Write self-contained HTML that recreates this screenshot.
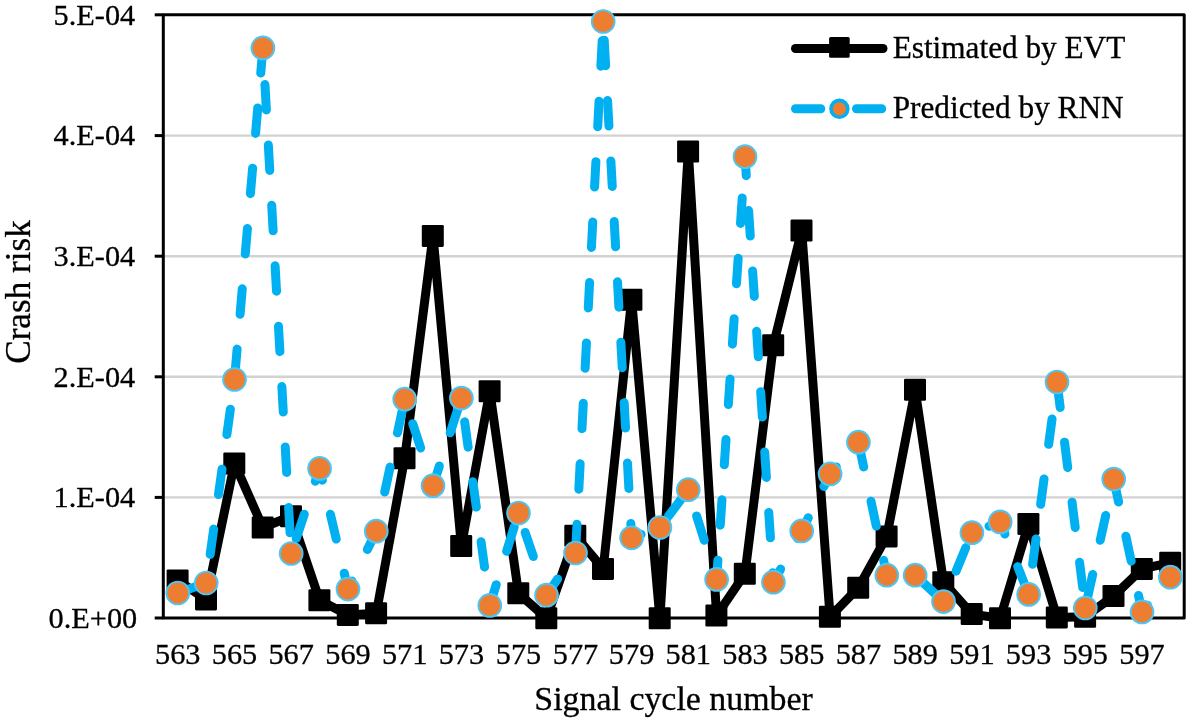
<!DOCTYPE html>
<html><head><meta charset="utf-8"><title>Crash risk chart</title>
<style>
html,body{margin:0;padding:0;background:#fff;}
body{width:1190px;height:721px;overflow:hidden;}
svg{display:block;}
text{font-family:"Liberation Serif","Times New Roman",serif;fill:#000;stroke:#000;stroke-width:0.3px;}
.tk{font-size:30.3px;}
.ti{font-size:33.9px;}
.tc{font-size:35.2px;}
.lg{font-size:31.25px;}
</style></head><body>
<svg width="1190" height="721" viewBox="0 0 1190 721">
<rect width="1190" height="721" fill="#fff"/>

<line x1="163" y1="135.6" x2="1184" y2="135.6" stroke="#d3d1d1" stroke-width="2.4"/>
<line x1="163" y1="256.2" x2="1184" y2="256.2" stroke="#d3d1d1" stroke-width="2.4"/>
<line x1="163" y1="376.8" x2="1184" y2="376.8" stroke="#d3d1d1" stroke-width="2.4"/>
<line x1="163" y1="497.4" x2="1184" y2="497.4" stroke="#d3d1d1" stroke-width="2.4"/>
<rect x="163.3" y="14.8" width="1020.9" height="603.2" fill="none" stroke="#000" stroke-width="3" stroke-linejoin="round"/>
<line x1="154.7" y1="14.8" x2="163.3" y2="14.8" stroke="#000" stroke-width="3"/>
<line x1="154.7" y1="135.6" x2="163.3" y2="135.6" stroke="#000" stroke-width="3"/>
<line x1="154.7" y1="256.2" x2="163.3" y2="256.2" stroke="#000" stroke-width="3"/>
<line x1="154.7" y1="376.8" x2="163.3" y2="376.8" stroke="#000" stroke-width="3"/>
<line x1="154.7" y1="497.4" x2="163.3" y2="497.4" stroke="#000" stroke-width="3"/>
<line x1="154.7" y1="618" x2="163.3" y2="618" stroke="#000" stroke-width="3"/>
<text class="tk" x="135.2" y="24.6" text-anchor="end">5.E-04</text>
<text class="tk" x="135.2" y="145.4" text-anchor="end">4.E-04</text>
<text class="tk" x="135.2" y="266.0" text-anchor="end">3.E-04</text>
<text class="tk" x="135.2" y="386.6" text-anchor="end">2.E-04</text>
<text class="tk" x="135.2" y="507.2" text-anchor="end">1.E-04</text>
<text class="tk" x="137.2" y="627.8" text-anchor="end">0.E+00</text>
<text class="tk" x="177.8" y="663.8" text-anchor="middle">563</text>
<text class="tk" x="234.5" y="663.8" text-anchor="middle">565</text>
<text class="tk" x="291.2" y="663.8" text-anchor="middle">567</text>
<text class="tk" x="348.0" y="663.8" text-anchor="middle">569</text>
<text class="tk" x="404.7" y="663.8" text-anchor="middle">571</text>
<text class="tk" x="461.4" y="663.8" text-anchor="middle">573</text>
<text class="tk" x="518.5" y="663.8" text-anchor="middle">575</text>
<text class="tk" x="575.5" y="663.8" text-anchor="middle">577</text>
<text class="tk" x="631.6" y="663.8" text-anchor="middle">579</text>
<text class="tk" x="688.3" y="663.8" text-anchor="middle">581</text>
<text class="tk" x="745.0" y="663.8" text-anchor="middle">583</text>
<text class="tk" x="801.7" y="663.8" text-anchor="middle">585</text>
<text class="tk" x="858.4" y="663.8" text-anchor="middle">587</text>
<text class="tk" x="915.2" y="663.8" text-anchor="middle">589</text>
<text class="tk" x="971.9" y="663.8" text-anchor="middle">591</text>
<text class="tk" x="1028.6" y="663.8" text-anchor="middle">593</text>
<text class="tk" x="1085.3" y="663.8" text-anchor="middle">595</text>
<text class="tk" x="1142.0" y="663.8" text-anchor="middle">597</text>
<text class="ti" x="673.6" y="709.8" text-anchor="middle">Signal cycle number</text>
<text class="tc" transform="translate(30.4,292) rotate(-90)" text-anchor="middle">Crash risk</text>
<polyline points="177.8,580.5 206.2,599.4 234.5,463.4 262.9,527.5 291.2,516.2 319.6,600.2 348.0,614.9 376.3,613.2 404.7,458.2 433.0,235.9 461.4,546.1 489.8,391.3 518.5,593.3 546.5,618.2 575.5,535.8 603.2,568.9 631.6,299.7 659.9,618.2 688.3,151.5 716.6,615.5 745.0,573.8 773.4,345.2 801.7,230.6 830.1,616.8 858.4,587.7 886.8,536.4 915.2,389.8 943.5,582.2 971.9,614.1 1000.2,618.2 1028.6,523.9 1057.0,617.4 1085.3,616.7 1113.7,596.0 1142.0,568.9 1170.4,562.7" fill="none" stroke="#000" stroke-width="9" stroke-linejoin="round" stroke-linecap="round"/>
<rect x="166.6" y="569.5" width="22" height="22" rx="1.3" fill="#000"/>
<rect x="195.0" y="588.4" width="22" height="22" rx="1.3" fill="#000"/>
<rect x="223.3" y="452.4" width="22" height="22" rx="1.3" fill="#000"/>
<rect x="251.7" y="516.5" width="22" height="22" rx="1.3" fill="#000"/>
<rect x="280.0" y="505.2" width="22" height="22" rx="1.3" fill="#000"/>
<rect x="308.4" y="589.2" width="22" height="22" rx="1.3" fill="#000"/>
<rect x="336.8" y="603.9" width="22" height="22" rx="1.3" fill="#000"/>
<rect x="365.1" y="602.2" width="22" height="22" rx="1.3" fill="#000"/>
<rect x="393.5" y="447.2" width="22" height="22" rx="1.3" fill="#000"/>
<rect x="421.8" y="224.9" width="22" height="22" rx="1.3" fill="#000"/>
<rect x="450.2" y="535.1" width="22" height="22" rx="1.3" fill="#000"/>
<rect x="478.6" y="380.3" width="22" height="22" rx="1.3" fill="#000"/>
<rect x="507.3" y="582.3" width="22" height="22" rx="1.3" fill="#000"/>
<rect x="535.3" y="607.2" width="22" height="22" rx="1.3" fill="#000"/>
<rect x="564.3" y="524.8" width="22" height="22" rx="1.3" fill="#000"/>
<rect x="592.0" y="557.9" width="22" height="22" rx="1.3" fill="#000"/>
<rect x="620.4" y="288.7" width="22" height="22" rx="1.3" fill="#000"/>
<rect x="648.7" y="607.2" width="22" height="22" rx="1.3" fill="#000"/>
<rect x="677.1" y="140.5" width="22" height="22" rx="1.3" fill="#000"/>
<rect x="705.4" y="604.5" width="22" height="22" rx="1.3" fill="#000"/>
<rect x="733.8" y="562.8" width="22" height="22" rx="1.3" fill="#000"/>
<rect x="762.2" y="334.2" width="22" height="22" rx="1.3" fill="#000"/>
<rect x="790.5" y="219.6" width="22" height="22" rx="1.3" fill="#000"/>
<rect x="818.9" y="605.8" width="22" height="22" rx="1.3" fill="#000"/>
<rect x="847.2" y="576.7" width="22" height="22" rx="1.3" fill="#000"/>
<rect x="875.6" y="525.4" width="22" height="22" rx="1.3" fill="#000"/>
<rect x="904.0" y="378.8" width="22" height="22" rx="1.3" fill="#000"/>
<rect x="932.3" y="571.2" width="22" height="22" rx="1.3" fill="#000"/>
<rect x="960.7" y="603.1" width="22" height="22" rx="1.3" fill="#000"/>
<rect x="989.0" y="607.2" width="22" height="22" rx="1.3" fill="#000"/>
<rect x="1017.4" y="512.9" width="22" height="22" rx="1.3" fill="#000"/>
<rect x="1045.8" y="606.4" width="22" height="22" rx="1.3" fill="#000"/>
<rect x="1074.1" y="605.7" width="22" height="22" rx="1.3" fill="#000"/>
<rect x="1102.5" y="585.0" width="22" height="22" rx="1.3" fill="#000"/>
<rect x="1130.8" y="557.9" width="22" height="22" rx="1.3" fill="#000"/>
<rect x="1159.2" y="551.7" width="22" height="22" rx="1.3" fill="#000"/>
<g fill="none" stroke="#00b0f0" stroke-width="9" stroke-linecap="round" stroke-dasharray="25.5 35">
<line x1="177.8" y1="593.0" x2="206.2" y2="583.0" stroke-dashoffset="1.5"/>
<line x1="206.2" y1="583.0" x2="234.5" y2="379.5" stroke-dashoffset="31.6"/>
<line x1="234.5" y1="379.5" x2="262.9" y2="47.9" stroke-dashoffset="55.5"/>
<line x1="262.9" y1="47.9" x2="291.2" y2="553.5" stroke-dashoffset="23.8"/>
<line x1="291.2" y1="553.5" x2="319.6" y2="468.4" stroke-dashoffset="44.7"/>
<line x1="319.6" y1="468.4" x2="348.0" y2="589.1" stroke-dashoffset="13.4"/>
<line x1="348.0" y1="589.1" x2="376.3" y2="531.2" stroke-dashoffset="16.4"/>
<line x1="376.3" y1="531.2" x2="404.7" y2="399.2" stroke-dashoffset="20.4"/>
<line x1="404.7" y1="399.2" x2="433.0" y2="485.7" stroke-dashoffset="34.7"/>
<line x1="433.0" y1="485.7" x2="461.4" y2="398.1" stroke-dashoffset="4.9"/>
<line x1="461.4" y1="398.1" x2="489.8" y2="605.4" stroke-dashoffset="36.5"/>
<line x1="489.8" y1="605.4" x2="518.5" y2="513.0" stroke-dashoffset="3.8"/>
<line x1="518.5" y1="513.0" x2="546.5" y2="595.2" stroke-dashoffset="40.0"/>
<line x1="546.5" y1="595.2" x2="575.5" y2="553.0" stroke-dashoffset="5.9"/>
<line x1="575.5" y1="553.0" x2="603.2" y2="21.5" stroke-dashoffset="57.1"/>
<line x1="603.2" y1="21.5" x2="631.6" y2="537.8" stroke-dashoffset="41.8"/>
<line x1="631.6" y1="537.8" x2="659.9" y2="527.5" stroke-dashoffset="15.4"/>
<line x1="659.9" y1="527.5" x2="688.3" y2="489.7" stroke-dashoffset="46.1"/>
<line x1="688.3" y1="489.7" x2="716.6" y2="579.4" stroke-dashoffset="33.0"/>
<line x1="716.6" y1="579.4" x2="745.0" y2="156.7" stroke-dashoffset="6.2"/>
<line x1="745.0" y1="156.7" x2="773.4" y2="582.2" stroke-dashoffset="6.5"/>
<line x1="773.4" y1="582.2" x2="801.7" y2="530.9" stroke-dashoffset="10.5"/>
<line x1="801.7" y1="530.9" x2="830.1" y2="473.9" stroke-dashoffset="10.8"/>
<line x1="830.1" y1="473.9" x2="858.4" y2="442.2" stroke-dashoffset="16.1"/>
<line x1="858.4" y1="442.2" x2="886.8" y2="575.2" stroke-dashoffset="0.2"/>
<line x1="886.8" y1="575.2" x2="915.2" y2="575.2" stroke-dashoffset="18.3"/>
<line x1="915.2" y1="575.2" x2="943.5" y2="601.6" stroke-dashoffset="48.9"/>
<line x1="943.5" y1="601.6" x2="971.9" y2="532.7" stroke-dashoffset="27.6"/>
<line x1="971.9" y1="532.7" x2="1000.2" y2="521.9" stroke-dashoffset="42.2"/>
<line x1="1000.2" y1="521.9" x2="1028.6" y2="594.4" stroke-dashoffset="12.5"/>
<line x1="1028.6" y1="594.4" x2="1057.0" y2="382.0" stroke-dashoffset="30.1"/>
<line x1="1057.0" y1="382.0" x2="1085.3" y2="608.0" stroke-dashoffset="60.4"/>
<line x1="1085.3" y1="608.0" x2="1113.7" y2="479.1" stroke-dashoffset="51.7"/>
<line x1="1113.7" y1="479.1" x2="1142.0" y2="611.9" stroke-dashoffset="2.1"/>
<line x1="1142.0" y1="611.9" x2="1170.4" y2="577.2" stroke-dashoffset="16.9"/>
</g>
<circle cx="177.8" cy="593.0" r="11.4" fill="#ed7d31" stroke="#4fc5f2" stroke-width="1.9"/>
<circle cx="206.2" cy="583.0" r="11.4" fill="#ed7d31" stroke="#4fc5f2" stroke-width="1.9"/>
<circle cx="234.5" cy="379.5" r="11.4" fill="#ed7d31" stroke="#4fc5f2" stroke-width="1.9"/>
<circle cx="262.9" cy="47.9" r="11.4" fill="#ed7d31" stroke="#4fc5f2" stroke-width="1.9"/>
<circle cx="291.2" cy="553.5" r="11.4" fill="#ed7d31" stroke="#4fc5f2" stroke-width="1.9"/>
<circle cx="319.6" cy="468.4" r="11.4" fill="#ed7d31" stroke="#4fc5f2" stroke-width="1.9"/>
<circle cx="348.0" cy="589.1" r="11.4" fill="#ed7d31" stroke="#4fc5f2" stroke-width="1.9"/>
<circle cx="376.3" cy="531.2" r="11.4" fill="#ed7d31" stroke="#4fc5f2" stroke-width="1.9"/>
<circle cx="404.7" cy="399.2" r="11.4" fill="#ed7d31" stroke="#4fc5f2" stroke-width="1.9"/>
<circle cx="433.0" cy="485.7" r="11.4" fill="#ed7d31" stroke="#4fc5f2" stroke-width="1.9"/>
<circle cx="461.4" cy="398.1" r="11.4" fill="#ed7d31" stroke="#4fc5f2" stroke-width="1.9"/>
<circle cx="489.8" cy="605.4" r="11.4" fill="#ed7d31" stroke="#4fc5f2" stroke-width="1.9"/>
<circle cx="518.5" cy="513.0" r="11.4" fill="#ed7d31" stroke="#4fc5f2" stroke-width="1.9"/>
<circle cx="546.5" cy="595.2" r="11.4" fill="#ed7d31" stroke="#4fc5f2" stroke-width="1.9"/>
<circle cx="575.5" cy="553.0" r="11.4" fill="#ed7d31" stroke="#4fc5f2" stroke-width="1.9"/>
<circle cx="603.2" cy="21.5" r="11.4" fill="#ed7d31" stroke="#4fc5f2" stroke-width="1.9"/>
<circle cx="631.6" cy="537.8" r="11.4" fill="#ed7d31" stroke="#4fc5f2" stroke-width="1.9"/>
<circle cx="659.9" cy="527.5" r="11.4" fill="#ed7d31" stroke="#4fc5f2" stroke-width="1.9"/>
<circle cx="688.3" cy="489.7" r="11.4" fill="#ed7d31" stroke="#4fc5f2" stroke-width="1.9"/>
<circle cx="716.6" cy="579.4" r="11.4" fill="#ed7d31" stroke="#4fc5f2" stroke-width="1.9"/>
<circle cx="745.0" cy="156.7" r="11.4" fill="#ed7d31" stroke="#4fc5f2" stroke-width="1.9"/>
<circle cx="773.4" cy="582.2" r="11.4" fill="#ed7d31" stroke="#4fc5f2" stroke-width="1.9"/>
<circle cx="801.7" cy="530.9" r="11.4" fill="#ed7d31" stroke="#4fc5f2" stroke-width="1.9"/>
<circle cx="830.1" cy="473.9" r="11.4" fill="#ed7d31" stroke="#4fc5f2" stroke-width="1.9"/>
<circle cx="858.4" cy="442.2" r="11.4" fill="#ed7d31" stroke="#4fc5f2" stroke-width="1.9"/>
<circle cx="886.8" cy="575.2" r="11.4" fill="#ed7d31" stroke="#4fc5f2" stroke-width="1.9"/>
<circle cx="915.2" cy="575.2" r="11.4" fill="#ed7d31" stroke="#4fc5f2" stroke-width="1.9"/>
<circle cx="943.5" cy="601.6" r="11.4" fill="#ed7d31" stroke="#4fc5f2" stroke-width="1.9"/>
<circle cx="971.9" cy="532.7" r="11.4" fill="#ed7d31" stroke="#4fc5f2" stroke-width="1.9"/>
<circle cx="1000.2" cy="521.9" r="11.4" fill="#ed7d31" stroke="#4fc5f2" stroke-width="1.9"/>
<circle cx="1028.6" cy="594.4" r="11.4" fill="#ed7d31" stroke="#4fc5f2" stroke-width="1.9"/>
<circle cx="1057.0" cy="382.0" r="11.4" fill="#ed7d31" stroke="#4fc5f2" stroke-width="1.9"/>
<circle cx="1085.3" cy="608.0" r="11.4" fill="#ed7d31" stroke="#4fc5f2" stroke-width="1.9"/>
<circle cx="1113.7" cy="479.1" r="11.4" fill="#ed7d31" stroke="#4fc5f2" stroke-width="1.9"/>
<circle cx="1142.0" cy="611.9" r="11.4" fill="#ed7d31" stroke="#4fc5f2" stroke-width="1.9"/>
<circle cx="1170.4" cy="577.2" r="11.4" fill="#ed7d31" stroke="#4fc5f2" stroke-width="1.9"/>
<line x1="795.5" y1="48.5" x2="883" y2="48.5" stroke="#000" stroke-width="9" stroke-linecap="round"/>
<rect x="829.1" y="37.1" width="20.6" height="20.7" rx="1.5" fill="#000"/>
<text class="lg" x="892.7" y="57.7">Estimated by EVT</text>
<line x1="795.5" y1="108.8" x2="820.8" y2="108.8" stroke="#00b0f0" stroke-width="9" stroke-linecap="round"/>
<line x1="856.5" y1="108.8" x2="881.7" y2="108.8" stroke="#00b0f0" stroke-width="9" stroke-linecap="round"/>
<circle cx="839.4" cy="108.8" r="8.4" fill="#ed7d31" stroke="#00b0f0" stroke-width="3.6"/>
<text class="lg" x="892.7" y="118">Predicted by RNN</text>
</svg></body></html>
